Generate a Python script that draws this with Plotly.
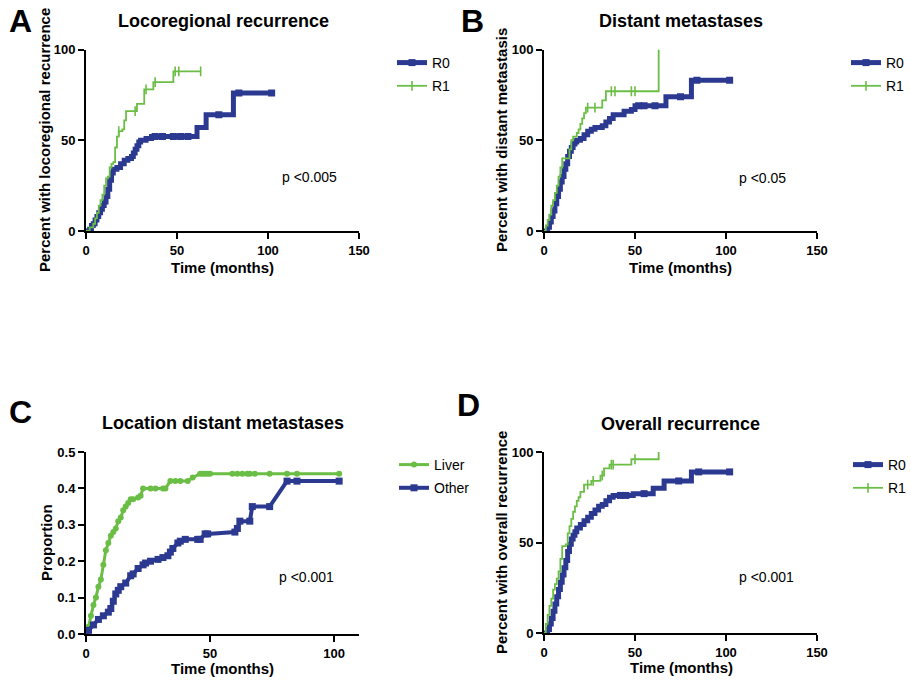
import numpy as np
import plotly.graph_objects as go

# ---------------- data ----------------
# Panel A: Locoregional recurrence (percent)
A_R0_t = [0, 2, 3, 4, 5, 6, 7, 8, 9, 10, 11, 12, 13, 14, 15, 17, 19, 21, 23, 25, 26, 27, 28, 29, 30, 33, 36, 61, 66, 81, 102]
A_R0_v = [0, 1, 3, 4, 6, 8, 10, 12, 14, 16, 19, 23, 28, 32, 34, 35, 37, 39, 40, 41, 43, 45, 47, 49, 50, 51, 52, 57, 64, 76, 76]
A_R0_cens = [38, 42, 48, 52, 56, 73, 84, 102]
A_R1_t = [0, 2, 4, 5, 6, 7, 8, 9, 10, 11, 12, 13, 14, 15, 16, 17, 18, 20, 21, 22, 28, 32, 37, 48, 63]
A_R1_v = [0, 2, 4, 7, 10, 14, 17, 20, 25, 29, 30, 35, 37, 38, 46, 52, 55, 56, 61, 66, 70, 78, 82, 88, 88]
A_R1_cens = [18, 27, 33, 38, 49, 51, 63]

# Panel B: Distant metastases (percent)
B_R0_t = [0, 2, 3, 4, 5, 6, 7, 8, 9, 10, 11, 12, 13, 14, 15, 16, 17, 18, 20, 22, 24, 26, 28, 32, 34, 36, 38, 44, 48, 50, 67, 81, 102]
B_R0_v = [0, 2, 5, 8, 11, 15, 19, 23, 27, 30, 34, 37, 41, 44, 46, 48, 49, 50, 51, 53, 55, 56, 57, 58, 60, 62, 64, 66, 67, 69, 74, 83, 83]
B_R0_cens = [52, 55, 61, 75, 84, 102]
B_R1_t = [0, 1, 2, 3, 4, 5, 6, 7, 8, 9, 10, 14, 15, 16, 18, 19, 20, 21, 22, 23, 32, 34, 63]
B_R1_v = [0, 3, 6, 9, 14, 17, 21, 25, 30, 35, 40, 45, 50, 52, 54, 56, 59, 62, 65, 68, 72, 77, 100]
B_R1_cens = [24, 28, 37, 39, 48, 50]

# Panel C: Location distant metastases (proportion)
C_liver_t = [0, 1, 2, 3, 4, 5, 6, 7, 8, 9, 10, 11, 12, 13, 14, 15, 16, 17, 18, 19,
             21, 22, 23, 26, 28, 31, 32, 34, 36, 38, 41, 43, 46, 47, 48, 49, 50, 59, 61, 63,
             65, 66, 68, 74, 81, 85, 102]
C_liver_v = [0, .02, .05, .08, .10, .13, .15, .19, .23, .25, .27, .28, .29, .31, .32, .34, .35, .36, .37, .37,
             .375, .38, .40, .40, .40, .40, .40, .42, .42, .42, .42, .43, .44, .44, .44, .44, .44, .44, .44, .44,
             .44, .44, .44, .44, .44, .44, .44]
C_other_t = [0, 1, 3, 5, 7, 9, 10, 11, 12, 13, 14, 16, 18, 19, 21, 23, 24, 26, 29, 31,
             33, 34, 35, 37, 38, 40, 45, 46, 48, 49, 60, 61, 62, 66, 67, 74, 81, 85, 102]
C_other_v = [0, .01, .025, .04, .05, .06, .07, .09, .11, .12, .13, .14, .16, .165, .18, .19, .195, .20, .205, .21,
             .215, .225, .235, .25, .255, .26, .26, .26, .275, .275, .28, .29, .31, .31, .35, .35, .42, .42, .42]

# Panel D: Overall recurrence (percent)
D_R0_t = [0, 2, 3, 4, 5, 6, 7, 8, 9, 10, 11, 12, 13, 14, 15, 16, 17, 18, 20, 22, 24, 26, 28, 30, 32, 34, 36, 38, 49, 60, 66, 81, 102]
D_R0_v = [0, 2, 5, 8, 12, 16, 20, 24, 28, 32, 36, 40, 45, 49, 52, 54, 56, 58, 60, 62, 64, 66, 68, 70, 71, 73, 75, 76, 77, 80, 84, 89, 89]
D_R0_cens = [42, 45, 55, 74, 85, 102]
D_R1_t = [0, 1, 2, 3, 4, 5, 6, 7, 8, 9, 10, 12, 13, 14, 15, 16, 17, 18, 19, 20, 22, 26, 31, 33, 36, 48, 63]
D_R1_v = [0, 5, 10, 15, 19, 24, 27, 30, 34, 41, 48, 49, 55, 59, 63, 67, 70, 73, 75, 78, 82, 84, 87, 91, 93, 96, 100]
D_R1_cens = [24, 27, 32, 37, 38, 50]

KM_ticks = [0, 50, 100, 150]
C_xticks = [0, 50, 100]
C_yticks = [0, 0.1, 0.2, 0.3, 0.4, 0.5]

# ---------------- style ----------------
BLUE = "#2B3990"
GREEN = "#6BBE45"
FONT = "Liberation Sans"
VIEW_W, H = 911, 680   # visible window
W = 960                # paper is a little wider so the right-hand legends are not pushed inward


def X(px):
    return px / W


def Y(py):
    return 1 - py / H


def step_at(ts, vs, t):
    i = int(np.searchsorted(ts, t, side="right")) - 1
    return vs[i]


def censor_xy(ts, vs, cens):
    xs, ys = [], []
    for c in cens:
        xs += [c, None]
        ys += [step_at(ts, vs, c), None]
    return xs, ys


fig = go.Figure()


def add_km(xa, ya, leg, r0t, r0v, r0c, r1t, r1v, r1c):
    fig.add_trace(go.Scatter(x=r0t, y=r0v, mode="lines", xaxis=xa, yaxis=ya,
                             line=dict(color=BLUE, width=5, shape="hv"),
                             showlegend=False, legendgroup=leg + "R0", hoverinfo="skip"))
    cx, cy = censor_xy(r0t, r0v, r0c)
    fig.add_trace(go.Scatter(x=cx, y=cy, mode="lines+markers", xaxis=xa, yaxis=ya,
                             line=dict(color=BLUE, width=5),
                             marker=dict(symbol="square", size=7, color=BLUE),
                             name="R0", legend=leg, legendgroup=leg + "R0", connectgaps=False))
    fig.add_trace(go.Scatter(x=r1t, y=r1v, mode="lines", xaxis=xa, yaxis=ya,
                             line=dict(color=GREEN, width=1.8, shape="hv"),
                             showlegend=False, legendgroup=leg + "R1", hoverinfo="skip"))
    cx, cy = censor_xy(r1t, r1v, r1c)
    fig.add_trace(go.Scatter(x=cx, y=cy, mode="lines+markers", xaxis=xa, yaxis=ya,
                             line=dict(color=GREEN, width=1.8),
                             marker=dict(symbol="line-ns", size=7, color=GREEN,
                                         line=dict(color=GREEN, width=1.6)),
                             name="R1", legend=leg, legendgroup=leg + "R1", connectgaps=False))


add_km("x", "y", "legend", A_R0_t, A_R0_v, A_R0_cens, A_R1_t, A_R1_v, A_R1_cens)
add_km("x2", "y2", "legend2", B_R0_t, B_R0_v, B_R0_cens, B_R1_t, B_R1_v, B_R1_cens)

fig.add_trace(go.Scatter(x=C_liver_t, y=C_liver_v, mode="lines+markers", xaxis="x3", yaxis="y3",
                         line=dict(color=GREEN, width=3),
                         marker=dict(symbol="circle", size=6, color=GREEN),
                         name="Liver", legend="legend3", legendgroup="liver"))
fig.add_trace(go.Scatter(x=C_other_t, y=C_other_v, mode="lines+markers", xaxis="x3", yaxis="y3",
                         line=dict(color=BLUE, width=4),
                         marker=dict(symbol="square", size=7, color=BLUE),
                         name="Other", legend="legend3", legendgroup="other"))

add_km("x4", "y4", "legend4", D_R0_t, D_R0_v, D_R0_cens, D_R1_t, D_R1_v, D_R1_cens)

axis_common = dict(showline=True, linewidth=2, linecolor="black", ticks="outside",
                   ticklen=6, tickwidth=2, tickcolor="black", showgrid=False, zeroline=False,
                   tickfont=dict(family=FONT, size=13, color="black", weight="bold"),
                   fixedrange=True, automargin=False)

dxL = [X(86), X(359)]
dxR = [X(544), X(817)]
dyT = [Y(231), Y(49.5)]
dyB_C = [Y(634), Y(452)]
dyB_D = [Y(633), Y(452)]

fig.update_layout(
    width=W, height=H, margin=dict(l=0, r=0, t=0, b=0, autoexpand=False),
    paper_bgcolor="white", plot_bgcolor="white",
    font=dict(family=FONT, color="black"),
    xaxis=dict(domain=dxL, range=[0, 150], tickvals=KM_ticks, anchor="y", **axis_common),
    yaxis=dict(domain=dyT, range=[0, 100], tickvals=[0, 50, 100], anchor="x", **axis_common),
    xaxis2=dict(domain=dxR, range=[0, 150], tickvals=KM_ticks, anchor="y2", **axis_common),
    yaxis2=dict(domain=dyT, range=[0, 100], tickvals=[0, 50, 100], anchor="x2", **axis_common),
    xaxis3=dict(domain=dxL, range=[0, 110], tickvals=C_xticks, anchor="y3", **axis_common),
    yaxis3=dict(domain=dyB_C, range=[0, 0.5], tickvals=C_yticks, tickformat=".1f", anchor="x3", **axis_common),
    xaxis4=dict(domain=dxR, range=[0, 150], tickvals=KM_ticks, anchor="y4", **axis_common),
    yaxis4=dict(domain=dyB_D, range=[0, 100], tickvals=[0, 50, 100], anchor="x4", **axis_common),
)

leg_common = dict(xanchor="left", yanchor="top", bgcolor="rgba(0,0,0,0)", borderwidth=0,
                  font=dict(family=FONT, size=14, color="black"), tracegroupgap=2,
                  traceorder="grouped")
fig.update_layout(
    legend=dict(x=X(392), y=Y(47), **leg_common),
    legend2=dict(x=X(846), y=Y(47), **leg_common),
    legend3=dict(x=X(394), y=Y(449), **leg_common),
    legend4=dict(x=X(848), y=Y(449), **leg_common),
)

ann = []


def text(px, py, s, size, bold=False, xanchor="center", angle=0):
    ann.append(dict(x=X(px), y=Y(py), xref="paper", yref="paper", text=s, showarrow=False,
                    xanchor=xanchor, yanchor="middle", textangle=angle,
                    font=dict(family=FONT, size=size, color="black",
                              weight="bold" if bold else "normal")))


# panel letters
text(20, 21, "A", 32, True)
text(472, 21, "B", 32, True)
text(20, 412, "C", 32, True)
text(468, 405, "D", 32, True)
# titles
text(223, 21, "Locoregional recurrence", 18, True)
text(681, 21, "Distant metastases", 18, True)
text(223, 423, "Location distant metastases", 18, True)
text(680, 424, "Overall recurrence", 18, True)
# axis titles
text(222.5, 268, "Time (months)", 15, True)
text(680.5, 268, "Time (months)", 15, True)
text(222.5, 668, "Time (months)", 15, True)
text(681, 667, "Time (months)", 15, True)
text(45, 140, "Percent with locoregional recurrence", 15, True, angle=-90)
text(502, 140, "Percent with distant metastasis", 15, True, angle=-90)
text(46, 543, "Proportion", 15, True, angle=-90)
text(501, 543, "Percent with overall recurrence", 15, True, angle=-90)
# p-values
text(280, 177, "p <0.005", 14, xanchor="left")
text(737, 178, "p <0.05", 14, xanchor="left")
text(277, 577, "p <0.001", 14, xanchor="left")
text(737, 577, "p <0.001", 14, xanchor="left")

fig.update_layout(annotations=ann)

post = (
    "document.documentElement.style.margin='0';"
    "document.body.style.margin='0';"
    "document.body.style.overflow='hidden';"
    "var gd=document.getElementById('{plot_id}');"
    "var wrap=gd.parentElement;"
    "wrap.style.width='%dpx';wrap.style.height='%dpx';wrap.style.overflow='hidden';"
) % (VIEW_W, H)

fig.write_html("out.html", config={"displayModeBar": False}, post_script=post)
